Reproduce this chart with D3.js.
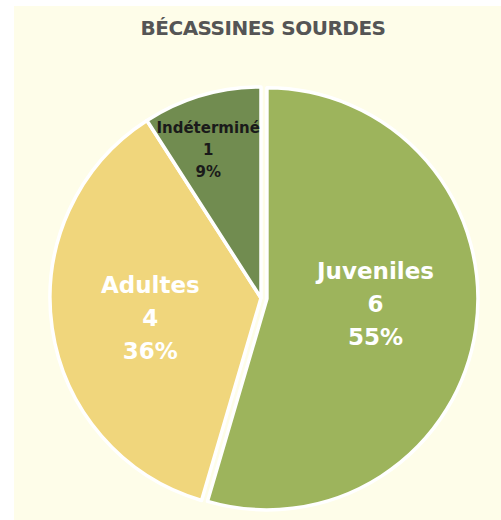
<!DOCTYPE html>
<html>
<head>
<meta charset="utf-8">
<script src="https://cdn.jsdelivr.net/npm/d3@7"></script>
<style>
  html, body { margin: 0; padding: 0; background: #ffffff; }
  svg { display: block; }
</style>
</head>
<body>
<script>
// Bécassines sourdes: age classes of the birds
const categories = ["Juveniles", "Adultes", "Indéterminé"];
const counts = [6, 4, 1];
const percentLabels = ["55%", "36%", "9%"];
const sliceColors = ["#9db45c", "#f0d67c", "#718c50"];
const labelColors = ["#ffffff", "#ffffff", "#1a1a1a"];

const W = 501, H = 520;
const svg = d3.select("body").append("svg").attr("width", W).attr("height", H);

// cream chart area
svg.append("rect").attr("x", 14).attr("y", 6).attr("width", W - 14).attr("height", H - 6)
  .attr("fill", "#fefde9");

svg.append("text")
  .attr("x", 263).attr("y", 35)
  .attr("text-anchor", "middle")
  .attr("font-family", "'DejaVu Sans', sans-serif")
  .attr("font-weight", "bold")
  .attr("font-size", 20)
  .attr("letter-spacing", -0.5)
  .attr("fill", "#555555")
  .text("BÉCASSINES SOURDES");

const cx = 261, cy = 298, r = 211;
const data = categories.map((c, i) => ({ name: c, value: counts[i], pct: percentLabels[i], color: sliceColors[i], label: labelColors[i] }));

const pie = d3.pie().sort(null).value(d => d.value);
const arcs = pie(data);
const arc = d3.arc().innerRadius(0).outerRadius(r);

// the Juveniles slice is pulled slightly out of the pie
const explode = [6, 0, 0];

const g = svg.append("g").attr("transform", `translate(${cx},${cy})`);

const slices = g.selectAll("g.slice").data(arcs).join("g")
  .attr("class", "slice")
  .attr("transform", (d, i) => {
    const a = (d.startAngle + d.endAngle) / 2;
    return `translate(${Math.sin(a) * explode[i]},${-Math.cos(a) * explode[i]})`;
  });

slices.append("path")
  .attr("d", arc)
  .attr("fill", d => d.data.color)
  .attr("stroke", "#ffffff")
  .attr("stroke-width", 3.5)
  .attr("stroke-linejoin", "round");

// label placement: radius along the mid-angle, then a small nudge
const labelRadius = [0.52, 0.53, 0.72];
const labelNudge = [[0, -11], [0, 4], [-10, -2]];
const fontSizes = [23, 23, 15];
const lineGaps = [33, 33, 22];

slices.each(function (d, i) {
  const a = (d.startAngle + d.endAngle) / 2;
  const lr = r * labelRadius[i];
  const x = Math.sin(a) * lr + labelNudge[i][0];
  const y = -Math.cos(a) * lr + labelNudge[i][1];
  const lines = [d.data.name, String(d.data.value), d.data.pct];
  const gap = lineGaps[i];
  const t = d3.select(this).append("text")
    .attr("text-anchor", "middle")
    .attr("font-family", "'DejaVu Sans', sans-serif")
    .attr("font-weight", "bold")
    .attr("font-size", fontSizes[i])
    .attr("fill", d.data.label);
  lines.forEach((s, k) => {
    t.append("tspan")
      .attr("x", x)
      .attr("y", y + (k - 1) * gap)
      .attr("dy", "0.35em")
      .text(s);
  });
});
</script>
</body>
</html>
